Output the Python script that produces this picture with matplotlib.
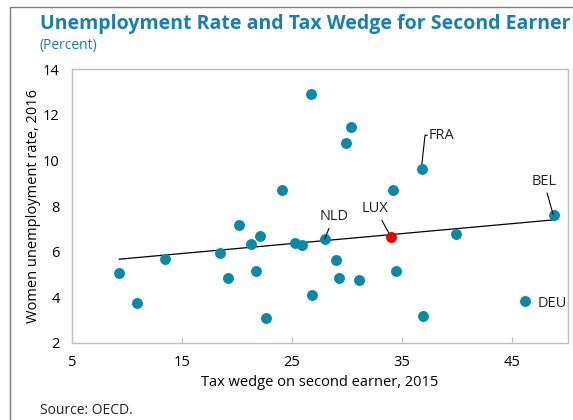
import matplotlib.pyplot as plt
from matplotlib.patches import Rectangle

plt.rcParams['font.family'] = ['Open Sans', 'DejaVu Sans']

# tax wedge on second earner (2015) vs women unemployment rate (2016)
tax_wedge = [9.3, 10.9, 13.5, 18.5, 19.2, 20.2, 21.3, 21.7, 22.1, 22.6,
             24.1, 25.3, 25.9, 26.7, 26.8, 29.9, 30.4, 34.2, 29.0, 29.3,
             31.1, 34.5, 36.9, 39.9, 28.0, 36.8, 48.8, 46.2]
unemp = [5.05, 3.77, 5.70, 5.92, 4.83, 7.18, 6.32, 5.16, 6.68, 3.08,
         8.72, 6.36, 6.29, 12.90, 4.11, 10.77, 11.46, 8.69, 5.62, 4.84,
         4.78, 5.16, 3.20, 6.79, 6.55, 9.60, 7.61, 3.82]
lux_x, lux_y = 34.0, 6.65

# fitted trend
slope = 0.0436
intercept = 5.265

teal = '#0b8aa8'
blue = '#1a7fb0'
grey = '#bfbfbf'

fig = plt.figure(figsize=(5.73, 4.2), dpi=100)
ax = fig.add_axes([72/573, 1 - 343/420, (568-72)/573, (343-69)/420])

# outer frame, runs off the right and bottom edges
fig.patches.append(Rectangle((10/573, -0.1), 1.2, 1 - 7/420 + 0.1,
                             transform=fig.transFigure, fill=False,
                             edgecolor='#7f7f7f', linewidth=1.0))

ax.scatter(tax_wedge, unemp, s=62, color=teal, zorder=3, linewidths=0)
ax.scatter([lux_x], [lux_y], s=62, color='#e60000', zorder=4, linewidths=0)

xs = [min(tax_wedge), max(tax_wedge)]
ax.plot(xs, [intercept + slope * v for v in xs], color='black', lw=0.9, zorder=2)

ax.set_xlim(5, 50.1)
ax.set_ylim(2, 14)
ax.set_xticks([5, 15, 25, 35, 45])
ax.set_yticks(range(2, 15, 2))
for s in ax.spines.values():
    s.set_color(grey)
    s.set_linewidth(1.0)
ax.tick_params(axis='x', direction='in', length=4, color=grey, labelsize=10.5, pad=9)
ax.tick_params(axis='y', length=0, labelsize=10.5, pad=9)

ax.set_xlabel('Tax wedge on second earner, 2015', fontsize=10.5, labelpad=3)
ax.set_ylabel('Women unemployment rate, 2016', fontsize=10.5, labelpad=1)

lab = dict(fontsize=10.5, color='#222222')
# FRA with bent leader
ax.plot([36.76, 37.1, 37.3], [9.6, 11.1, 11.1], color='black', lw=0.8, zorder=2)
ax.text(37.4, 11.1, 'FRA', va='center', ha='left', **lab)
ax.annotate('BEL', xy=(48.76, 7.61), xytext=(47.9, 8.75), ha='center', va='bottom',
            arrowprops=dict(arrowstyle='-', color='black', lw=0.8, shrinkA=1, shrinkB=0), **lab)
ax.annotate('LUX', xy=(lux_x, lux_y), xytext=(32.6, 7.55), ha='center', va='bottom',
            arrowprops=dict(arrowstyle='-', color='black', lw=0.8, shrinkA=1, shrinkB=0), **lab)
ax.annotate('NLD', xy=(27.97, 6.55), xytext=(28.8, 7.2), ha='center', va='bottom',
            arrowprops=dict(arrowstyle='-', color='black', lw=0.8, shrinkA=1, shrinkB=0), **lab)
ax.text(47.3, 3.75, 'DEU', va='center', ha='left', **lab)

fig.text(40/573, 1 - 24/420, 'Unemployment Rate and Tax Wedge for Second Earner',
         fontsize=14.0, fontweight='bold', color=blue, va='center', ha='left')
fig.text(40/573, 1 - 46/420, '(Percent)', fontsize=10, color=blue, va='center', ha='left')
fig.text(40/573, 1 - 410/420, 'Source: OECD.', fontsize=10, color='#222222', va='center', ha='left')

plt.savefig('out.png', dpi=100)
